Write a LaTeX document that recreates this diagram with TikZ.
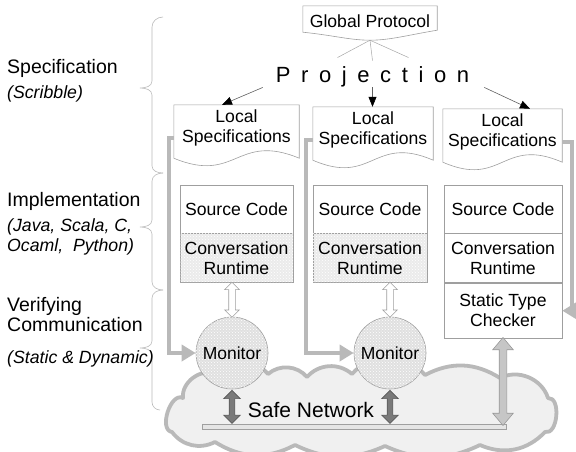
\documentclass[tikz,border=0pt]{standalone}
\usepackage{fontspec}
\setmainfont{Liberation Sans}
\usetikzlibrary{positioning,calc,arrows.meta,shapes.arrows,patterns}

\begin{document}
\begin{tikzpicture}[x=1pt,y=1pt,
	lbl/.style={anchor=west,inner sep=0,align=left,font=\fontsize{19.5}{20}\selectfont},
	sublbl/.style={anchor=west,inner sep=0,align=left,font=\fontsize{17.7}{20}\selectfont\itshape},
	brc/.style={draw=gray!55,line width=0.6pt},
	doc/.style={inner sep=0,align=center,font=\fontsize{17.6}{20}\selectfont},
	docline/.style={draw=gray!75,line width=0.6pt},
	cell/.style={draw=gray!75,line width=0.6pt,inner sep=0,align=center,font=\fontsize{17.6}{20}\selectfont},
	rtcell/.style={cell,fill=gray!16,postaction={pattern=crosshatch dots,pattern color=white}},
	monitor/.style={circle,minimum size=72,inner sep=0,draw=gray!75,line width=0.6pt,fill=gray!24,postaction={pattern=crosshatch dots,pattern color=white},font=\fontsize{17.5}{20}\selectfont},
	cloudline/.style={draw=gray!55,line width=3.8pt,fill=gray!12,line join=round},
	netbar/.style={minimum width=304,minimum height=4.5,inner sep=0,draw=gray!75,line width=0.6pt,fill=gray!20},
	projarrow/.style={draw=gray!75!black,line width=0.6pt,-{Triangle[length=10pt,width=8pt,color=black]}},
	specline/.style={draw=gray!55,line width=4pt,-{Triangle[length=14pt,width=16pt]}},
	hollowdbl/.style={double arrow,rotate=90,inner sep=3pt,double arrow head extend=4pt,double arrow tip angle=90,draw=gray!75,line width=0.6pt,fill=white},
	darkdbl/.style={double arrow,rotate=90,minimum height=33,inner sep=2.5pt,double arrow head extend=5.5pt,double arrow tip angle=90,draw=black!65,line width=0.6pt,fill=black!52},
	lightdbl/.style={double arrow,rotate=90,inner sep=3.5pt,double arrow head extend=6.5pt,double arrow tip angle=80,draw=gray!80,line width=0.6pt,fill=gray!45}
	]
	\useasboundingbox (0,0) rectangle (576,-451);

	% side braces
	\draw[brc] (163,-17) to[out=180,in=90] (152,-27) -- (152,-81) to[out=-90,in=0] (140,-88) to[out=0,in=90] (152,-95) -- (152,-166) to[out=-90,in=180] (163,-173);
	\draw[brc] (163,-173) to[out=180,in=90] (152,-181) -- (152,-220) to[out=-90,in=0] (140,-227) to[out=0,in=90] (152,-234) -- (152,-282) to[out=-90,in=180] (163,-290);
	\draw[brc] (163,-290) to[out=180,in=90] (152,-298) -- (152,-341) to[out=-90,in=0] (140,-348) to[out=0,in=90] (152,-355) -- (152,-402) to[out=-90,in=180] (160,-410);

	\node[lbl] (spec) at (7,-68) {Specification};
	\node[sublbl] (scrib) at (7,-93.5) {(Scribble)};
	\node[lbl] (impl) at (7,-201) {Implementation};
	\node[sublbl] (langs) at (7,-236.8) {(Java, Scala, C,\\Ocaml,\ \ Python)};
	\node[lbl] (verif) at (7,-315) {Verifying\\Communication};
	\node[sublbl] (statdyn) at (7,-358.8) {(Static \& Dynamic)};

	% global protocol and projection
	\node[doc,minimum width=134,minimum height=30] (gp) at (370,-21) {Global Protocol};
	\coordinate (gptip) at ([yshift=-4pt]gp.south);
	\draw[docline] (gp.north west) -- (gp.north east) -- ([yshift=6pt]gp.south east) .. controls +(-30,-5) and +(20,0) .. (gptip) .. controls +(-20,0) and +(30,-3) .. ([yshift=4pt]gp.south west) -- cycle;

	\node[inner sep=0,font=\fontsize{22}{24}\selectfont] (proj) at (372.5,-77) {\spaceskip=10.6pt P r o j e c t i o n};
	\draw[gray!70,line width=0.5pt] (gptip) -- ([xshift=-35pt,yshift=9pt]proj.north);
	\draw[gray!70,line width=0.5pt] (gptip) -- ([yshift=6pt]proj.north);
	\draw[gray!70,line width=0.5pt] (gptip) -- ([xshift=36pt,yshift=9pt]proj.north);

	% local specifications
	\node[doc,minimum width=125,minimum height=46] (loc1) at (236.5,-128) {Local\\Specifications};
	\node[doc,minimum width=120,minimum height=46] (loc2) at (373,-130) {Local\\Specifications};
	\node[doc,minimum width=119,minimum height=46] (loc3) at (502.5,-132) {Local\\Specifications};
	\draw[docline] (loc1.north west) -- (loc1.north east) -- ([yshift=-7pt]loc1.south east) .. controls ([yshift=19pt]loc1.south) and ([yshift=-33pt]loc1.south) .. ([yshift=-7pt]loc1.south west) -- cycle;
	\draw[docline] (loc2.north west) -- (loc2.north east) -- ([yshift=-7pt]loc2.south east) .. controls ([yshift=19pt]loc2.south) and ([yshift=-33pt]loc2.south) .. ([yshift=-7pt]loc2.south west) -- cycle;
	\draw[docline] (loc3.north west) -- (loc3.north east) -- ([yshift=-7pt]loc3.south east) .. controls ([yshift=19pt]loc3.south) and ([yshift=-33pt]loc3.south) .. ([yshift=-7pt]loc3.south west) -- cycle;

	\draw[projarrow] ([xshift=-13pt]proj.south west) -- ([xshift=-14.5pt]loc1.north);
	\draw[projarrow] (proj.south) -- (proj.south |- loc2.north);
	\draw[projarrow] ([xshift=15pt]proj.south east) -- ([xshift=27.5pt]loc3.north);

	% implementation
	\node[cell,minimum width=113,minimum height=48] (src1) at (236.5,-209) {Source Code};
	\node[rtcell,minimum width=113,minimum height=49,below=0pt of src1] (rt1) {Conversation\\Runtime};
	\node[cell,minimum width=114,minimum height=48] (src2) at (370,-209) {Source Code};
	\node[rtcell,minimum width=114,minimum height=49,below=0pt of src2] (rt2) {Conversation\\Runtime};
	\node[cell,minimum width=118,minimum height=48] (src3) at (503,-209) {Source Code};
	\node[cell,minimum width=118,minimum height=49,below=0pt of src3] (rt3) {Conversation\\Runtime};
	\node[cell,minimum width=118,minimum height=55,below=0pt of rt3] (stc) {Static Type\\Checker};

	% network cloud
	\draw[cloudline] (172,-432) to[bend left=100] (183,-398) to[bend left=60] (215,-374) to[bend left=50] (268,-374) to[bend left=45] (307,-377) to[bend left=45] (352,-374) to[bend left=50] (425,-375) to[bend left=30] (500,-378) to[bend left=50] (548,-398) to[bend left=100] (545,-432) to[bend left=35] (480,-445) to[bend left=25] (385,-446) to[bend left=25] (295,-445) to[bend left=30] (215,-442) to[bend left=40] (172,-432) -- cycle;
	\node[netbar] (bus) at (354,-427) {};
	\node[inner sep=0,font=\fontsize{21}{24}\selectfont] (safe) at (311,-409.5) {Safe Network};

	\node[monitor] (mon1) at (232,-353) {Monitor};
	\node[monitor] (mon2) at (390,-353) {Monitor};

	\node[hollowdbl,minimum height=35] (io1) at ($(mon1.north)!0.5!(mon1.north |- rt1.south)$) {};
	\node[hollowdbl,minimum height=35] (io2) at ($(mon2.north)!0.5!(mon2.north |- rt2.south)$) {};
	\node[darkdbl] (nw1) at ($(mon1.south)!0.5!(mon1.south |- bus.north)$) {};
	\node[darkdbl] (nw2) at ($(mon2.south)!0.5!(mon2.south |- bus.north)$) {};
	\node[lightdbl,minimum height=88] (nw3) at ($(stc.south)!0.5!(stc.south |- bus.north)$) {};

	\draw[specline] ([yshift=-10pt]loc1.west) -- ++(-5,0) |- (mon1.west);
	\draw[specline] ([yshift=-10pt]loc2.west) -- ++(-7,0) |- (mon2.west);
	\draw[specline] ([yshift=-10pt]loc3.east) -- ++(10,0) |- (stc.east);

\end{tikzpicture}
\end{document}
